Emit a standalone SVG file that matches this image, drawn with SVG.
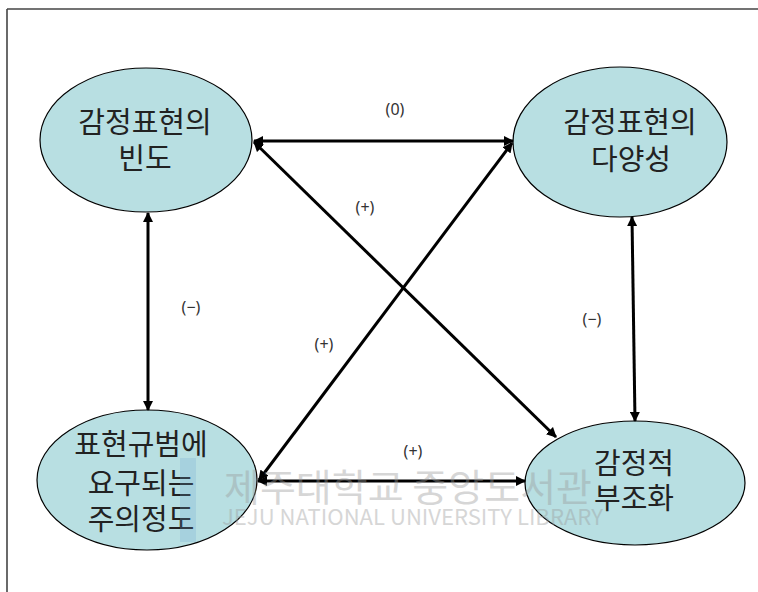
<svg xmlns="http://www.w3.org/2000/svg" width="758" height="592" viewBox="0 0 758 592">
<defs>
<style>
.node ellipse{fill:#b8dfe2;stroke:#000;stroke-width:1.2}
.nt{font-family:"Noto Sans CJK KR","Noto Sans",sans-serif;font-size:29px;fill:#222;text-anchor:middle}
.lbl{font-family:"Noto Sans","DejaVu Sans",sans-serif;font-size:16px;fill:#333;text-anchor:middle}
.conn line{stroke:#000;stroke-width:3;marker-start:url(#ah);marker-end:url(#ah)}
.wm{font-family:"Noto Sans CJK KR","Noto Sans",sans-serif;fill:#9a9a9a;opacity:0.4}
</style>
<marker id="ah" viewBox="0 0 10 10" refX="9" refY="5" markerWidth="3.4" markerHeight="3.4" orient="auto-start-reverse" markerUnits="strokeWidth">
<path d="M0,0 L10,5 L0,10 z" fill="#000"/>
</marker>
</defs>
<rect width="758" height="592" fill="#fff"/>
<g id="frame" stroke="#444" stroke-width="1.6" fill="none">
<line x1="7" y1="9" x2="758" y2="9"/>
<line x1="7" y1="9" x2="7" y2="592"/>
</g>
<g id="n1" class="node">
<ellipse cx="146" cy="140" rx="106" ry="72"/>
<text class="nt" x="145" y="133">감정표현의</text>
<text class="nt" x="145" y="169">빈도</text>
</g>
<g id="n2" class="node">
<ellipse cx="620" cy="142" rx="107" ry="75"/>
<text class="nt" x="630" y="133">감정표현의</text>
<text class="nt" x="631" y="170">다양성</text>
</g>
<g id="n3" class="node">
<ellipse cx="147" cy="480" rx="110" ry="70"/>
<text class="nt" x="141" y="455">표현규범에</text>
<text class="nt" x="141" y="494">요구되는</text>
<text class="nt" x="141" y="530">주의정도</text>
</g>
<g id="n4" class="node">
<ellipse cx="635" cy="483" rx="110" ry="62"/>
<text class="nt" x="634" y="474">감정적</text>
<text class="nt" x="634" y="509">부조화</text>
</g>
<g id="connectors" class="conn">
<line x1="254" y1="141" x2="513" y2="141"/>
<line x1="254" y1="142" x2="556" y2="437"/>
<line x1="512" y1="143" x2="259" y2="480"/>
<line x1="148" y1="213" x2="148" y2="410"/>
<line x1="632" y1="217" x2="635" y2="421"/>
<line x1="258" y1="481" x2="525" y2="481"/>
</g>
<g id="labels">
<text class="lbl" x="395" y="115">(0)</text>
<text class="lbl" x="365" y="213">(+)</text>
<text class="lbl" x="191" y="313">(−)</text>
<text class="lbl" x="324" y="350">(+)</text>
<text class="lbl" x="592" y="325">(−)</text>
<text class="lbl" x="413" y="457">(+)</text>
</g>
<g id="watermark">
<rect x="180" y="458" width="16" height="84" fill="#6b9fd0" opacity="0.22"/>
<text class="wm" x="224" y="501" font-size="38" textLength="368" lengthAdjust="spacingAndGlyphs">제주대학교 중앙도서관</text>
<text class="wm" x="222" y="525" font-size="22" textLength="381" lengthAdjust="spacingAndGlyphs">JEJU NATIONAL UNIVERSITY  LIBRARY</text>
</g>
</svg>
